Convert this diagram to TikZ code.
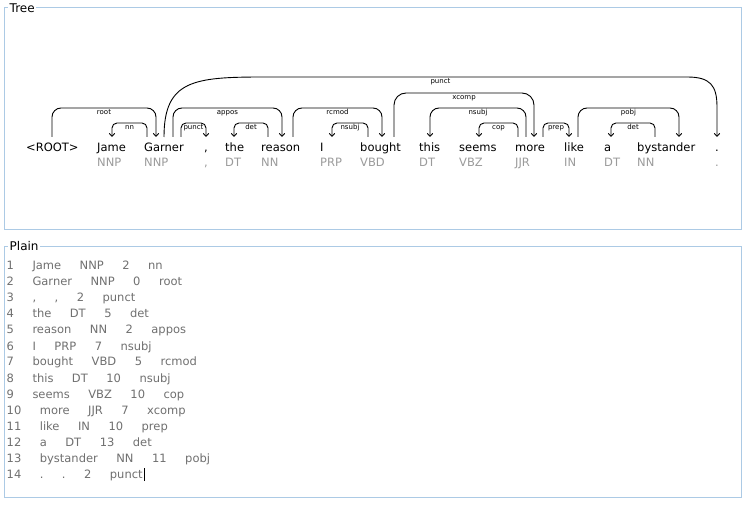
\documentclass[tikz,border=0pt]{standalone}
\usepackage{fontspec}
\setmainfont{DejaVu Sans}
\usetikzlibrary{arrows.meta,calc}
\definecolor{framec}{RGB}{172,202,229}
\definecolor{posc}{RGB}{155,155,155}
\definecolor{plainc}{RGB}{112,112,112}

% attachment point above a word: name, word node, offset from its left edge
\newcommand\att[3]{\coordinate (#1) at ($(#2.base west)+(#3,-15)$);}
% dependency arc: head point, dependent point, level, corner radius, relation
\newcommand\deparc[5]{%
  \draw[arcline,rounded corners=#4] (#1) -- (#1 |- #3) -- (#2 |- #3) -- (#2);
  \path (#1 |- #3) -- (#2 |- #3) node[rel,midway,yshift=-6.5pt]{#5};}
\newcommand\colgap{\hspace{18.5pt}}

\begin{document}
\begin{tikzpicture}[x=1pt,y=-1pt,
  word/.style={anchor=base west,inner sep=0pt,font=\fontsize{11.5}{13}\selectfont},
  tag/.style={word,text=posc},
  rel/.style={font=\fontsize{7}{8}\selectfont,inner sep=0pt,anchor=base},
  arcline/.style={line width=0.9pt,-{Straight Barb[length=3pt,width=5.5pt]}},
  frame/.style={draw=framec,line width=1pt},
  title/.style={anchor=base west,fill=white,inner xsep=1.5pt,inner ysep=1pt,font=\fontsize{12}{14}\selectfont},
  plainline/.style={anchor=base west,inner sep=0pt,text=plainc,font=\fontsize{11.5}{13}\selectfont}]

\useasboundingbox (0,0) rectangle (745,505);
\fill[white] (0,0) rectangle (745,505);

% panels
\draw[frame] (4,8) rectangle (741,230);
\node[title] (treetitle) at (8,12.5) {Tree};
\draw[frame] (4,247) rectangle (741,497);
\node[title] (plaintitle) at (8,251) {Plain};

% levels of the arcs
\coordinate (L1) at (0,123);
\coordinate (L2) at (0,108);
\coordinate (L3) at (0,93);
\coordinate (L4) at (0,77);

% words
\node[word] (w0)  at (26,152)  {<ROOT>};
\node[word] (w1)  at (97,152)  {Jame};
\node[word] (w2)  at (144,152) {Garner};
\node[word] (w3)  at (204,152) {,};
\node[word] (w4)  at (225,152) {the};
\node[word] (w5)  at (261,152) {reason};
\node[word] (w6)  at (320,152) {I};
\node[word] (w7)  at (360,152) {bought};
\node[word] (w8)  at (419,152) {this};
\node[word] (w9)  at (459,152) {seems};
\node[word] (w10) at (515,152) {more};
\node[word] (w11) at (564,152) {like};
\node[word] (w12) at (604,152) {a};
\node[word] (w13) at (637,152) {bystander};
\node[word] (w14) at (715,152) {.};

% part-of-speech tags
\node[tag] (t1)  at (97,167)  {NNP};
\node[tag] (t2)  at (144,167) {NNP};
\node[tag] (t3)  at (204,167) {,};
\node[tag] (t4)  at (225,167) {DT};
\node[tag] (t5)  at (261,167) {NN};
\node[tag] (t6)  at (320,167) {PRP};
\node[tag] (t7)  at (360,167) {VBD};
\node[tag] (t8)  at (419,167) {DT};
\node[tag] (t9)  at (459,167) {VBZ};
\node[tag] (t10) at (515,167) {JJR};
\node[tag] (t11) at (564,167) {IN};
\node[tag] (t12) at (604,167) {DT};
\node[tag] (t13) at (637,167) {NN};
\node[tag] (t14) at (715,167) {.};

% attachment points
\att{root0}{w0}{26}
\att{jame}{w1}{15}
\att{gar1}{w2}{3}
\att{gar2}{w2}{12}
\att{gar3}{w2}{20}
\att{gar4}{w2}{29}
\att{gar5}{w2}{37}
\att{comma}{w3}{2}
\att{the}{w4}{9}
\att{rea1}{w5}{7}
\att{rea2}{w5}{21}
\att{rea3}{w5}{32}
\att{pron}{w6}{12}
\att{bou1}{w7}{8}
\att{bou2}{w7}{22}
\att{bou3}{w7}{34}
\att{this}{w8}{11}
\att{seems}{w9}{20}
\att{mor1}{w10}{3}
\att{mor2}{w10}{11}
\att{mor3}{w10}{19}
\att{mor4}{w10}{28}
\att{lik1}{w11}{5}
\att{lik2}{w11}{14}
\att{adet}{w12}{7}
\att{bys1}{w13}{18}
\att{bys2}{w13}{42}
\att{stop}{w14}{2}

% dependencies
\deparc{root0}{gar2}{L2}{9pt}{root}
\deparc{gar1}{jame}{L1}{5pt}{nn}
\deparc{gar5}{comma}{L1}{5pt}{punct}
\deparc{gar4}{rea2}{L2}{9pt}{appos}
\deparc{rea1}{the}{L1}{5pt}{det}
\deparc{rea3}{bou2}{L2}{9pt}{rcmod}
\deparc{bou1}{pron}{L1}{5pt}{nsubj}
\deparc{bou3}{mor3}{L3}{12pt}{xcomp}
\deparc{mor2}{this}{L2}{9pt}{nsubj}
\deparc{mor1}{seems}{L1}{5pt}{cop}
\deparc{mor4}{lik1}{L1}{5pt}{prep}
\deparc{lik2}{bys2}{L2}{9pt}{pobj}
\deparc{bys1}{adet}{L1}{5pt}{det}

% the long punct arc from Garner to the full stop
\draw[arcline] (gar3) .. controls +(0,-57) and +(-70,0) .. ($(gar3 |- L4)+(100,0)$)
  -- ($(stop |- L4)+(-30,0)$) .. controls +(23,0) and +(0,-22) .. ($(stop)+(0,-30)$)
  -- (stop);
\path (gar3 |- L4) -- (stop |- L4) node[rel,midway,yshift=-6.5pt]{punct};

% plain listing
\node[plainline] (l1)  at (6.5,270) {1\colgap Jame\colgap NNP\colgap 2\colgap nn};
\node[plainline] (l2)  at (6.5,286) {2\colgap Garner\colgap NNP\colgap 0\colgap root};
\node[plainline] (l3)  at (6.5,302) {3\colgap ,\colgap ,\colgap 2\colgap punct};
\node[plainline] (l4)  at (6.5,318) {4\colgap the\colgap DT\colgap 5\colgap det};
\node[plainline] (l5)  at (6.5,334) {5\colgap reason\colgap NN\colgap 2\colgap appos};
\node[plainline] (l6)  at (6.5,350) {6\colgap I\colgap PRP\colgap 7\colgap nsubj};
\node[plainline] (l7)  at (6.5,366) {7\colgap bought\colgap VBD\colgap 5\colgap rcmod};
\node[plainline] (l8)  at (6.5,382) {8\colgap this\colgap DT\colgap 10\colgap nsubj};
\node[plainline] (l9)  at (6.5,398) {9\colgap seems\colgap VBZ\colgap 10\colgap cop};
\node[plainline] (l10) at (6.5,414) {10\colgap more\colgap JJR\colgap 7\colgap xcomp};
\node[plainline] (l11) at (6.5,430) {11\colgap like\colgap IN\colgap 10\colgap prep};
\node[plainline] (l12) at (6.5,446) {12\colgap a\colgap DT\colgap 13\colgap det};
\node[plainline] (l13) at (6.5,462) {13\colgap bystander\colgap NN\colgap 11\colgap pobj};
\node[plainline] (l14) at (6.5,478) {14\colgap .\colgap .\colgap 2\colgap punct};

% text cursor
\draw[line width=0.8pt] ($(l14.base east)+(1.5,3)$) -- ($(l14.base east)+(1.5,-10)$);
\end{tikzpicture}
\end{document}
